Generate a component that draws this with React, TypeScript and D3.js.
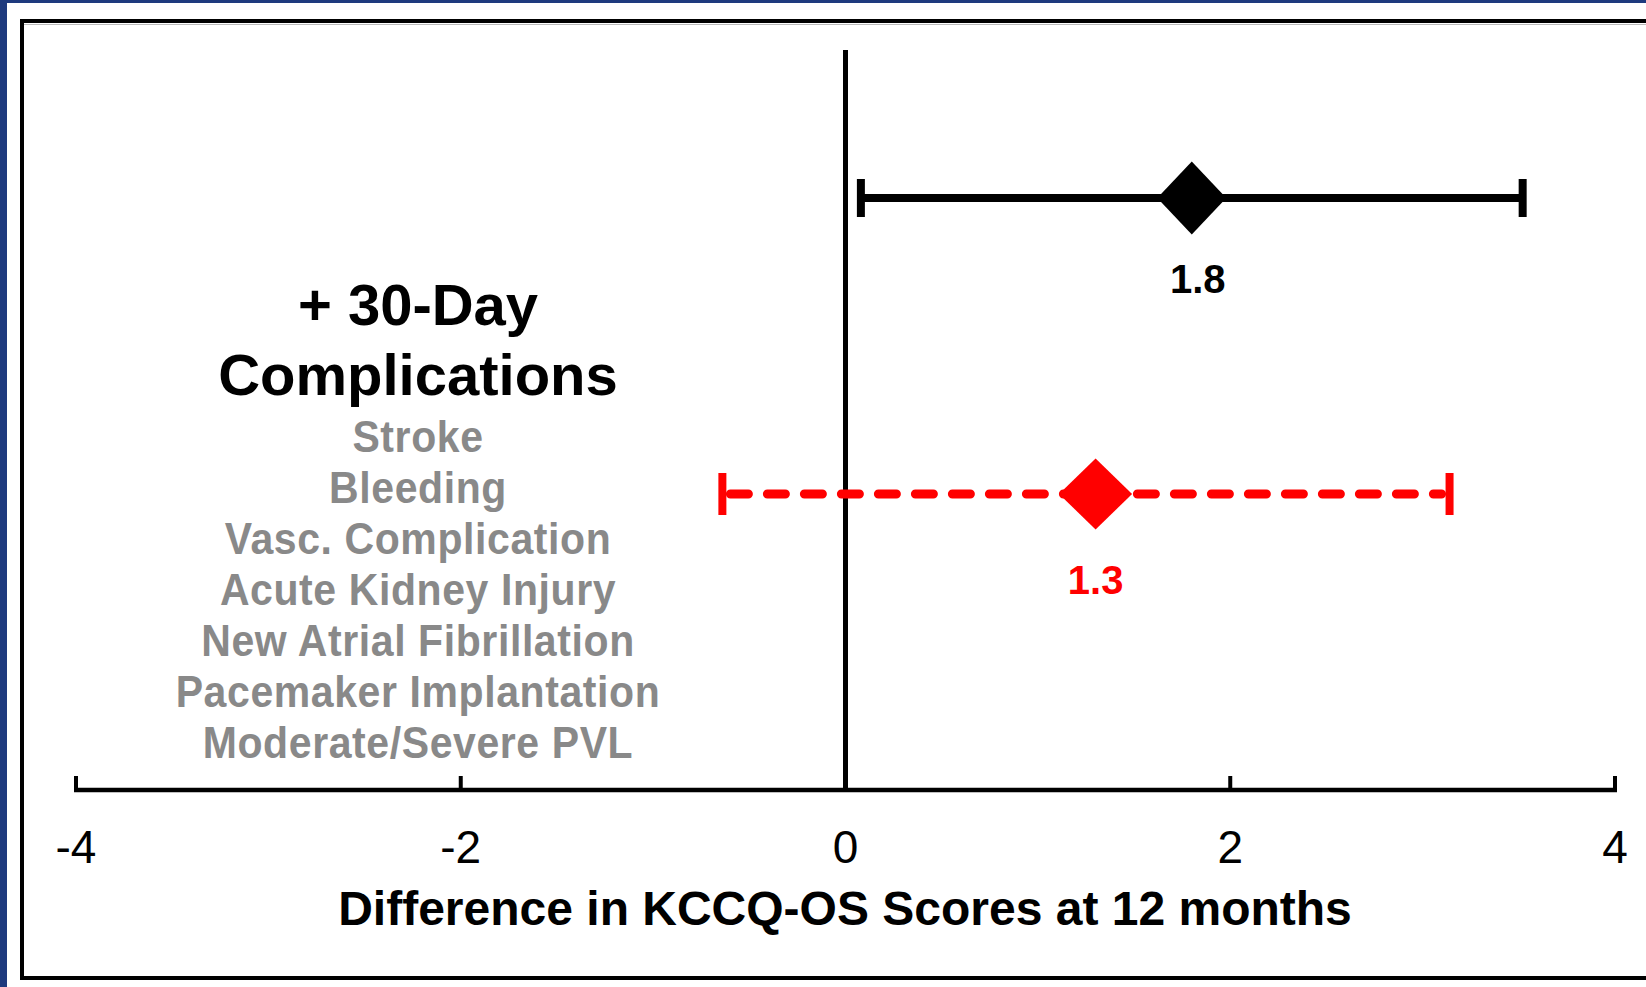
import React from "react";
import * as d3 from "d3";

const rows = ["Overall", "+ 30-Day Complications"];
const estimates = [1.8, 1.3];
const lowerCI = [0.08, -0.64];
const upperCI = [3.52, 3.14];
const seriesColors = ["#000000", "#ff0000"];
const estimateLabels = ["1.8", "1.3"];
const tickValues = [-4, -2, 0, 2, 4];
const groupTitle = ["+ 30-Day", "Complications"];
const complications = [
  "Stroke",
  "Bleeding",
  "Vasc. Complication",
  "Acute Kidney Injury",
  "New Atrial Fibrillation",
  "Pacemaker Implantation",
  "Moderate/Severe PVL",
];
const xTitle = "Difference in KCCQ-OS Scores at 12 months";

export default function App() {
  const W = 1646;
  const H = 987;
  const x = d3.scaleLinear().domain([-4, 4]).range([76, 1615]);
  const y = d3.scalePoint<string>().domain(rows).range([198, 494]);
  const axisY = 790;
  const font = "'Liberation Sans', Arial, sans-serif";

  const diamond = (cx: number, cy: number, w: number, h: number) =>
    `M${cx},${cy - h / 2}L${cx + w / 2},${cy}L${cx},${cy + h / 2}L${cx - w / 2},${cy}Z`;

  return (
    <svg
      width={W}
      height={H}
      style={{ position: "absolute", left: 0, top: 0, background: "#fff" }}
      fontFamily={font}
    >
      {/* blue slide edges */}
      <rect x={0} y={0} width={7} height={H} fill="#1e3a7e" />
      <rect x={0} y={0} width={W} height={3} fill="#1e3a7e" />
      {/* frame */}
      <line x1={22} y1={24.5} x2={W} y2={24.5} stroke="#bbb" strokeWidth={1} />
      <rect x={22} y={21} width={W} height={957} fill="none" stroke="#000" strokeWidth={4} />

      {/* zero line */}
      <line x1={x(0)} y1={50} x2={x(0)} y2={axisY} stroke="#000" strokeWidth={5} />

      {/* axis */}
      <line x1={x(-4) - 2} y1={axisY} x2={x(4) + 2} y2={axisY} stroke="#000" strokeWidth={4.5} />
      {tickValues.map((t) => (
        <g key={t}>
          <line x1={x(t)} y1={axisY} x2={x(t)} y2={776} stroke="#000" strokeWidth={4} />
          <text x={x(t)} y={863} textAnchor="middle" fontSize={46} fill="#000">
            {t}
          </text>
        </g>
      ))}
      <text x={845} y={925} textAnchor="middle" fontSize={48} fontWeight="bold" fill="#000">
        {xTitle}
      </text>

      {/* estimates */}
      {rows.map((r, i) => {
        const cy = y(r) as number;
        const c = seriesColors[i];
        const dashed = i === 1;
        const capH = dashed ? 42 : 38;
        return (
          <g key={r}>
            <line
              x1={x(lowerCI[i]) + (dashed ? 8 : 0)}
              y1={cy}
              x2={x(upperCI[i]) - (dashed ? 8 : 0)}
              y2={cy}
              stroke={c}
              strokeWidth={dashed ? 9 : 8}
              strokeDasharray={dashed ? "18 19" : undefined}
              strokeLinecap={dashed ? "round" : "butt"}
            />
            <line x1={x(lowerCI[i])} y1={cy - capH / 2} x2={x(lowerCI[i])} y2={cy + capH / 2} stroke={c} strokeWidth={8} />
            <line x1={x(upperCI[i])} y1={cy - capH / 2} x2={x(upperCI[i])} y2={cy + capH / 2} stroke={c} strokeWidth={8} />
            <path d={diamond(x(estimates[i]), cy, dashed ? 73 : 69, dashed ? 71 : 73)} fill={c} />
            <text
              x={x(estimates[i]) + (dashed ? 0 : 6)}
              y={cy + (dashed ? 100 : 95)}
              textAnchor="middle"
              fontSize={40}
              fontWeight="bold"
              fill={c}
            >
              {estimateLabels[i]}
            </text>
          </g>
        );
      })}

      {/* left labels */}
      {groupTitle.map((t, i) => (
        <text key={t} x={418} y={325 + i * 70} textAnchor="middle" fontSize={58} fontWeight="bold" fill="#000">
          {t}
        </text>
      ))}
      {complications.map((t, i) => (
        <text
          key={t}
          transform={`translate(418, ${452 + i * 51}) scale(1, 1.1)`}
          textAnchor="middle"
          fontSize={41}
          fontWeight="bold"
          letterSpacing={0.6}
          fill="#898989"
        >
          {t}
        </text>
      ))}
    </svg>
  );
}
